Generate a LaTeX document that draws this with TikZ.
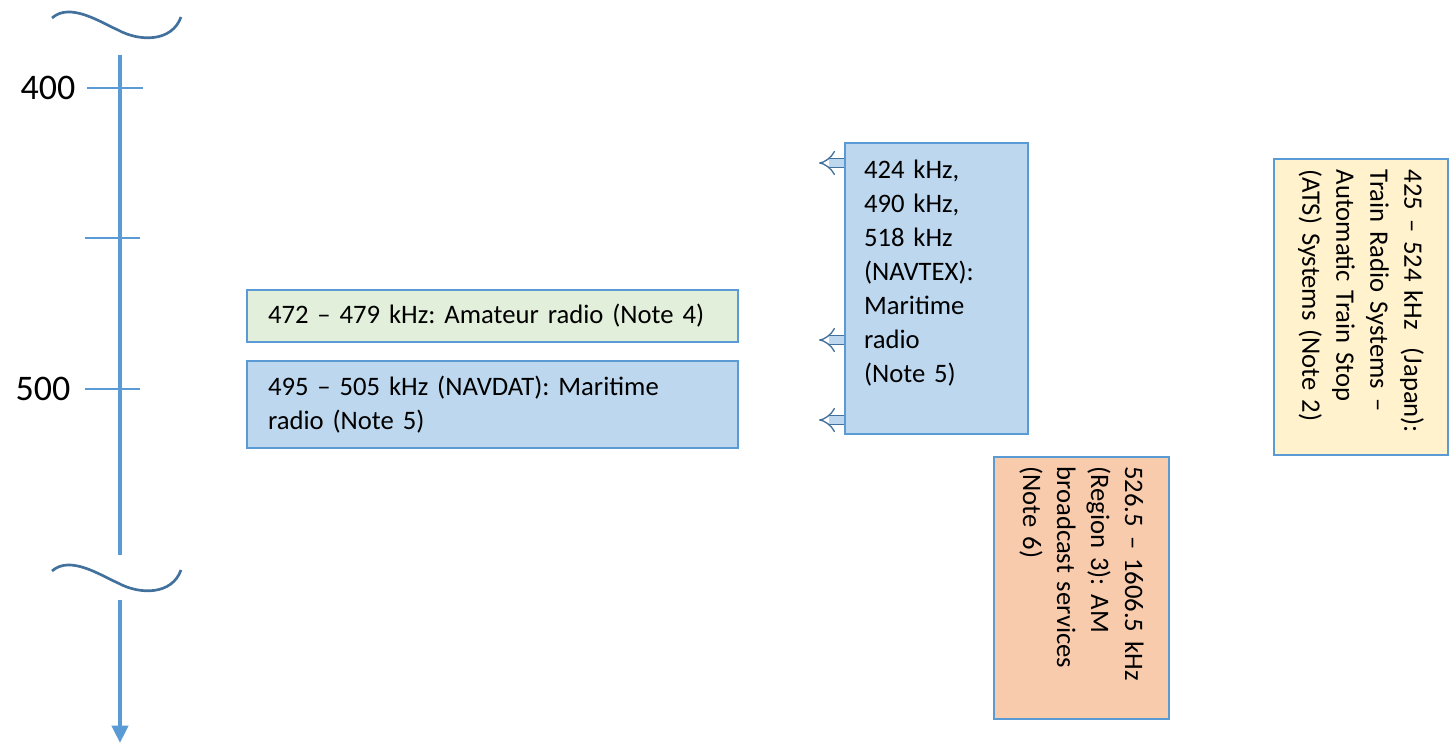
\documentclass[tikz,border=0pt]{standalone}
\usepackage{fontspec}
\setmainfont{Carlito}
\frenchspacing
\usepackage{xcolor}
\usetikzlibrary{arrows.meta,positioning,calc}
\definecolor{axisblue}{HTML}{5B9BD5}
\definecolor{darkblue}{HTML}{41719C}
\definecolor{greenfill}{HTML}{E2EFDA}
\definecolor{bluefill}{HTML}{BDD7EE}
\definecolor{yellowfill}{HTML}{FFF2CC}
\definecolor{orangefill}{HTML}{F8CBAD}

\begin{document}
\begin{tikzpicture}[x=0.75pt, y=-0.75pt,
    band/.style={draw=axisblue, line width=1.1pt, align=left, inner ysep=0pt, font=\fontsize{20}{25.5}\selectfont},
    wave/.style={draw=darkblue, line width=2pt},
    tick/.style={draw=axisblue, line width=0.9pt},
    hollow/.style={draw=darkblue, line width=1pt, double=bluefill, double distance=5.5pt, -{Implies}}]
    \useasboundingbox (0,0) rectangle (1451,743);

    % frequency axis with breaks
    \draw[axisblue, line width=3pt] (120,55) -- (120,555);
    \draw[axisblue, line width=3pt, -{Triangle[width=12pt,length=13pt]}] (120,600) -- (120,743);
    \draw[wave] (52,18) .. controls (70,2) and (100,22) .. (118,30) .. controls (140,42) and (172,42) .. (181,17);
    \draw[wave] (52,571) .. controls (70,555) and (100,575) .. (118,583) .. controls (140,595) and (172,595) .. (181,570);
    \draw[tick] (87,88) -- (143,88); \node[anchor=east, font=\fontsize{27}{30}\selectfont] (f400) at (80,88) {400};
    \draw[tick] (85,238) -- (140,238);
    \draw[tick] (85,389) -- (140,389); \node[anchor=east, font=\fontsize{27}{30}\selectfont] (f500) at (75,389) {500};

    % allocations
    \node[band, fill=greenfill, minimum width=368.25pt, minimum height=39pt, text width=336.75pt] (ham) at (492.5,316) {472 -- 479 kHz: Amateur radio (Note 4)};
    \node[band, fill=bluefill, minimum width=368.25pt, minimum height=65.25pt, text width=336.75pt] (navdat) at (492.5,404.5) {495 -- 505 kHz (NAVDAT): Maritime\\radio (Note 5)};
    \node[band, fill=bluefill, minimum width=137.25pt, minimum height=218.25pt, text width=108.75pt] (navtex) at (936.5,288.5) {424 kHz,\\490 kHz,\\518 kHz\\(NAVTEX):\\Maritime\\radio\\(Note 5)\\~};
    \node[band, fill=yellowfill, rotate=-90, minimum width=222pt, minimum height=130.5pt, text width=206pt] (ats) at (1361,307) {425 -- 524 kHz~~(Japan):\\Train Radio Systems --\\Automatic Train Stop\\(ATS) Systems (Note 2)};
    \node[band, fill=orangefill, rotate=-90, minimum width=196.5pt, minimum height=131.25pt, text width=182.5pt] (amb) at (1081.5,588) {526.5 -- 1606.5 kHz\\(Region 3): AM\\broadcast services\\(Note 6)};

    % NAVTEX frequencies
    \coordinate (t424) at (819,163); \coordinate (t490) at (819,340); \coordinate (t518) at (819,420);
    \draw[hollow] (navtex.west |- t424) -- (t424);
    \draw[hollow] (navtex.west |- t490) -- (t490);
    \draw[hollow] (navtex.west |- t518) -- (t518);
\end{tikzpicture}
\end{document}
